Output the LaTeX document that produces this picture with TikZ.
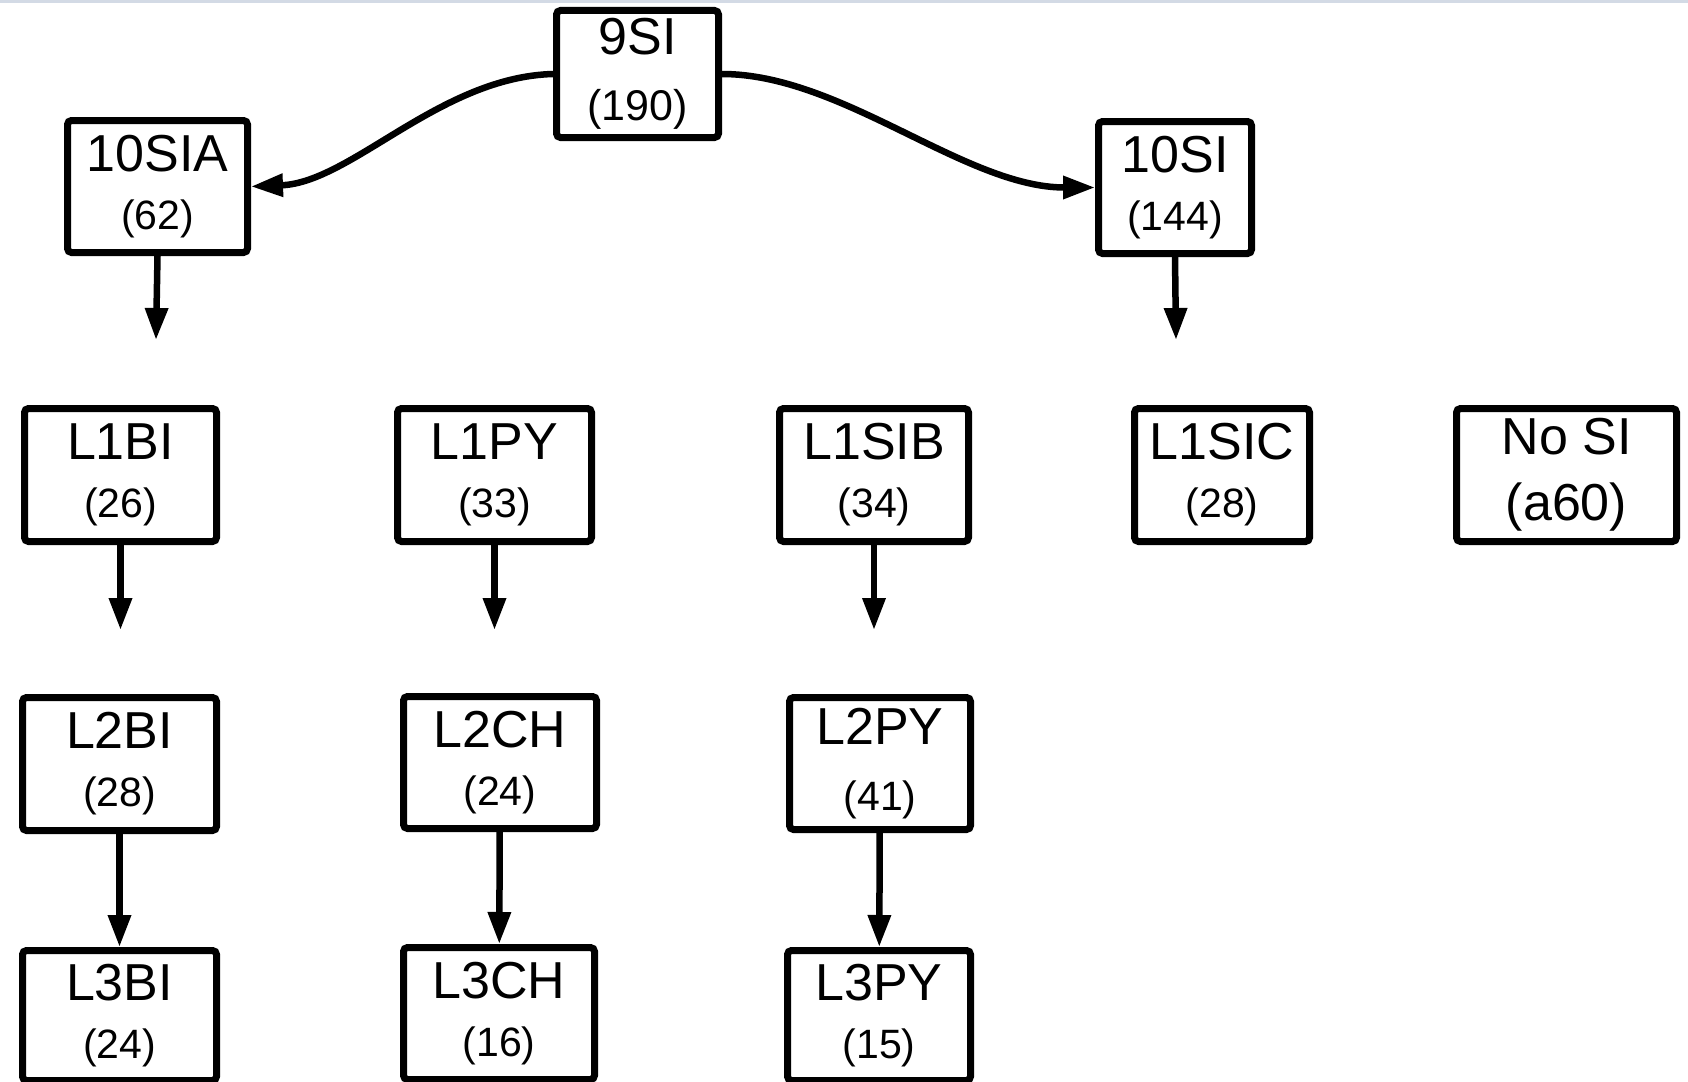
\documentclass[tikz,border=0pt]{standalone}
\usepackage{fontspec}
\setmainfont{Liberation Sans}
\usetikzlibrary{arrows.meta}
\definecolor{topband}{RGB}{211,218,229}
\newcommand\numsz{\fontsize{41}{58}\selectfont}
\begin{document}
\begin{tikzpicture}[x=1pt,y=-1pt,
  box/.style={draw, line width=7pt, rounded corners=4pt, inner sep=0pt,
    align=center, font=\fontsize{52}{58}\selectfont},
  widegap/.style={font=\fontsize{52}{66}\selectfont},
  conn/.style={line width=6.5pt, -{Triangle[length=32pt,width=22pt]}},
]
\useasboundingbox (0,0) rectangle (1688,1081);
\fill[topband] (0,0) rectangle (1688,3);

% top levels
\node[box, widegap, minimum width=162pt, minimum height=127pt] (n9SI) at (637.5,74)
  {9SI\\\fontsize{43}{66}\selectfont (190)};
\node[box, minimum width=180pt, minimum height=132pt] (n10SIA) at (157.5,186.5)
  {10SIA\\\numsz (62)};
\node[box, minimum width=153pt, minimum height=132pt] (n10SI) at (1175,187.5)
  {10SI\\\numsz (144)};

% level 1
\node[box, minimum width=192pt, minimum height=133pt] (L1BI) at (120.5,475)
  {L1BI\\\numsz (26)};
\node[box, minimum width=194pt, minimum height=133pt] (L1PY) at (494.5,475)
  {L1PY\\\numsz (33)};
\node[box, minimum width=189pt, minimum height=133pt] (L1SIB) at (874,475)
  {L1SIB\\\numsz (34)};
\node[box, minimum width=175pt, minimum height=133pt] (L1SIC) at (1222,475)
  {L1SIC\\\numsz (28)};
\node[box, widegap, minimum width=220pt, minimum height=133pt] (NoSI) at (1566.5,475)
  {No SI\\\fontsize{52}{66}\selectfont (a60)};

% level 2
\node[box, minimum width=194pt, minimum height=133pt] (L2BI) at (119.5,764)
  {L2BI\\\numsz (28)};
\node[box, minimum width=193pt, minimum height=132pt] (L2CH) at (500,762.5)
  {L2CH\\\numsz (24)};
\node[box, widegap, minimum width=181pt, minimum height=132pt] (L2PY) at (880,763.5)
  {L2PY\\\fontsize{41}{66}\selectfont (41)};

% level 3
\node[box, minimum width=194pt, minimum height=130pt] (L3BI) at (119.5,1015.5)
  {L3BI\\\numsz (24)};
\node[box, minimum width=191pt, minimum height=132pt] (L3CH) at (499,1013.5)
  {L3CH\\\numsz (16)};
\node[box, minimum width=183pt, minimum height=130pt] (L3PY) at (879,1015.5)
  {L3PY\\\numsz (15)};

% free arrow ends
\coordinate (e10SIA) at (156,340);
\coordinate (e10SI) at (1176,340);
\coordinate (eL1BI) at (120.5,630);
\coordinate (eL1PY) at (494.5,630);
\coordinate (eL1SIB) at (874,630);

% connectors
\draw[conn] (n9SI.west) .. controls +(-113,3) and +(100,-4) .. (n10SIA.east);
\draw[conn] (n9SI.east) .. controls +(120,0) and +(-130,0) .. (n10SI.west);
\draw[conn] (n10SIA.south) -- (e10SIA);
\draw[conn] (n10SI.south) -- (e10SI);
\draw[conn] (L1BI.south) -- (eL1BI);
\draw[conn] (L1PY.south) -- (eL1PY);
\draw[conn] (L1SIB.south) -- (eL1SIB);
\draw[conn] (L2BI) -- (L3BI);
\draw[conn] (L2CH) -- (L3CH);
\draw[conn] (L2PY) -- (L3PY);
\end{tikzpicture}
\end{document}
